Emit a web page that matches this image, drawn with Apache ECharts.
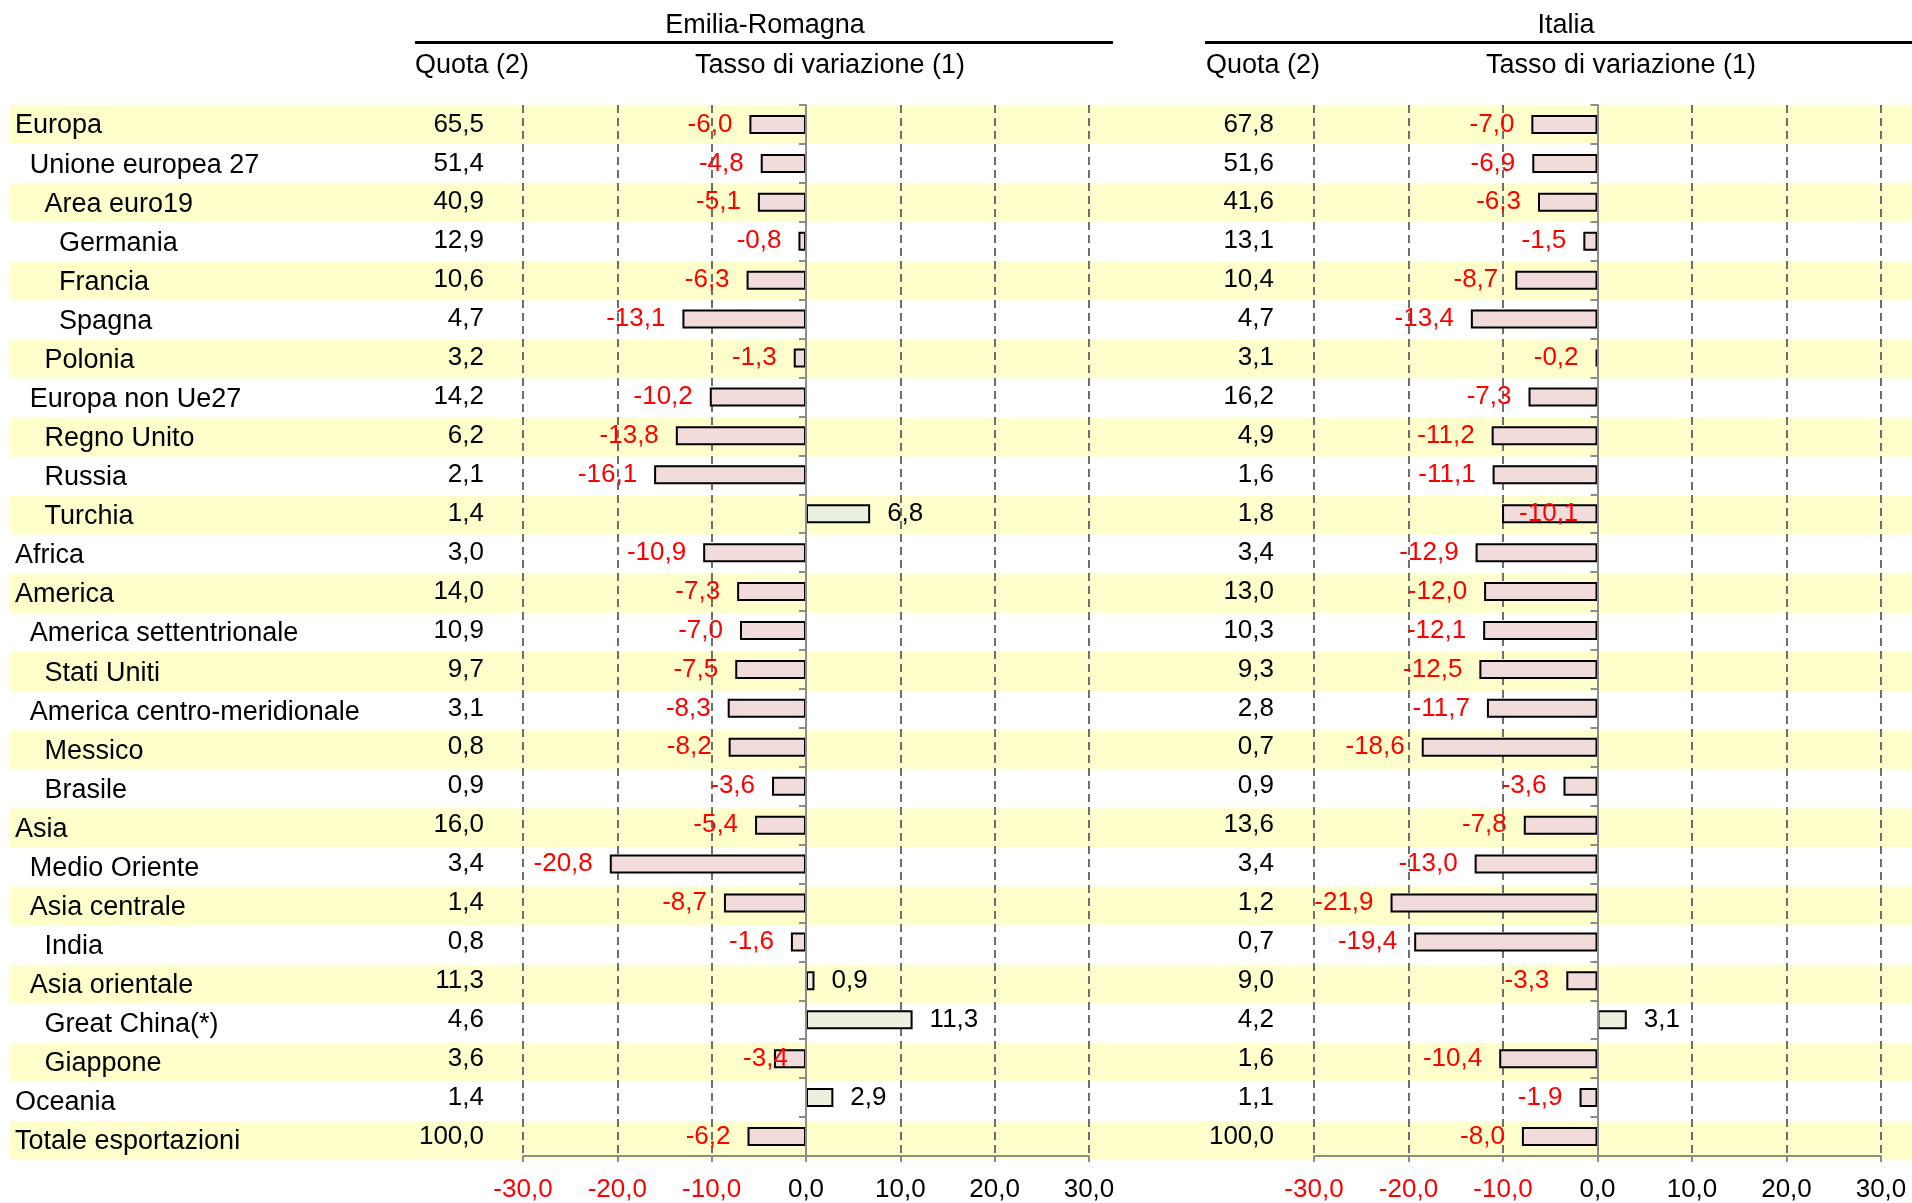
<!DOCTYPE html>
<html>
<head>
<meta charset="utf-8">
<script src="https://cdn.jsdelivr.net/npm/echarts@6/dist/echarts.min.js"></script>
<style>
html, body { margin: 0; padding: 0; background: #fff; }
#chart { width: 1912px; height: 1203px; }
</style>
</head>
<body>
<div id="chart"></div>
<script>
// aree geografiche e livello di rientro
const names = [
  'Europa', 'Unione europea 27', 'Area euro19', 'Germania', 'Francia', 'Spagna', 'Polonia',
  'Europa non Ue27', 'Regno Unito', 'Russia', 'Turchia', 'Africa', 'America',
  'America settentrionale', 'Stati Uniti', 'America centro-meridionale', 'Messico', 'Brasile',
  'Asia', 'Medio Oriente', 'Asia centrale', 'India', 'Asia orientale', 'Great China(*)',
  'Giappone', 'Oceania', 'Totale esportazioni'
]
const levels = [0, 1, 2, 3, 3, 3, 2, 1, 2, 2, 2, 0, 0, 1, 2, 1, 2, 2, 0, 1, 1, 2, 1, 2, 2, 0, 0]

// Emilia-Romagna
const quotaER = ['65,5', '51,4', '40,9', '12,9', '10,6', '4,7', '3,2', '14,2', '6,2', '2,1', '1,4', '3,0', '14,0',
  '10,9', '9,7', '3,1', '0,8', '0,9', '16,0', '3,4', '1,4', '0,8', '11,3', '4,6', '3,6', '1,4', '100,0']
const varER = [-6.0, -4.8, -5.1, -0.8, -6.3, -13.1, -1.3, -10.2, -13.8, -16.1, 6.8, -10.9, -7.3,
  -7.0, -7.5, -8.3, -8.2, -3.6, -5.4, -20.8, -8.7, -1.6, 0.9, 11.3, -3.4, 2.9, -6.2]

// Italia
const quotaIT = ['67,8', '51,6', '41,6', '13,1', '10,4', '4,7', '3,1', '16,2', '4,9', '1,6', '1,8', '3,4', '13,0',
  '10,3', '9,3', '2,8', '0,7', '0,9', '13,6', '3,4', '1,2', '0,7', '9,0', '4,2', '1,6', '1,1', '100,0']
const varIT = [-7.0, -6.9, -6.3, -1.5, -8.7, -13.4, -0.2, -7.3, -11.2, -11.1, -10.1, -12.9, -12.0,
  -12.1, -12.5, -11.7, -18.6, -3.6, -7.8, -13.0, -21.9, -19.4, -3.3, 3.1, -10.4, -1.9, -8.0]

const FONT = 'Liberation Sans, Arial, sans-serif'
const FS = 26      // numeri
const FT = 27      // testi
const fmt = v => v.toFixed(1).replace('.', ',')

const chart = echarts.init(document.getElementById('chart'))

function barData(values, odd) {
  return values.map((v, i) => {
    const neg = v < 0
    const label = {
      position: neg ? 'left' : 'right',
      color: neg ? '#ff0000' : '#000000'
    }
    if (odd[i]) Object.assign(label, odd[i])
    return {
      value: v,
      label: label,
      itemStyle: { color: neg ? '#f2dcdb' : '#ebf1de' }
    }
  })
}

function valueAxis(gridIndex) {
  return {
    type: 'value',
    gridIndex: gridIndex,
    min: -30,
    max: 30,
    interval: 10,
    position: 'bottom',
    axisLine: { show: true, lineStyle: { color: '#8c8c8c', width: 2 } },
    axisTick: { show: true, length: 6, lineStyle: { color: '#8c8c8c', width: 2 } },
    axisLabel: {
      fontFamily: FONT,
      fontSize: FS,
      margin: 21,
      formatter: v => fmt(v),
      color: v => (v < 0 ? '#ff0000' : '#000000')
    },
    splitLine: { show: true, lineStyle: { color: '#6e6e6e', width: 2, type: [8, 5] } }
  }
}

function quotaAxis(gridIndex, quota, margin) {
  return {
    type: 'category',
    gridIndex: gridIndex,
    inverse: true,
    data: names,
    position: 'left',
    axisLine: { show: false, onZero: false },
    axisTick: { show: false },
    axisLabel: {
      interval: 0,
      margin: margin,
      fontFamily: FONT,
      fontSize: FS,
      color: '#000',
      formatter: (v, i) => quota[i]
    }
  }
}

function zeroAxis(gridIndex) {
  return {
    type: 'category',
    gridIndex: gridIndex,
    inverse: true,
    data: names,
    position: 'left',
    z: 3,
    axisLine: { show: true, onZero: true, lineStyle: { color: '#8c8c8c', width: 2 } },
    axisTick: { show: true, interval: 0, length: 7, lineStyle: { color: '#8c8c8c', width: 2 } },
    axisLabel: { show: false }
  }
}

const rich = {}
;[0, 1, 2, 3].forEach(l => {
  rich['l' + l] = { fontFamily: FONT, fontSize: FT, color: '#000', padding: [3, 0, 0, l * 14.7] }
})

const labelBase = {
  show: true,
  distance: 17,
  fontFamily: FONT,
  fontSize: FS,
  formatter: p => fmt(p.value)
}

const head = (text, x, y, align) => ({
  type: 'text', x: x, y: y,
  style: { text: text, font: FT + 'px ' + FONT, fill: '#000', align: align, verticalAlign: 'middle' }
})

chart.setOption({
  animation: false,
  backgroundColor: '#fff',
  grid: [
    { left: 10, right: 0, top: 105, height: 1055 },
    { left: 523, width: 566, top: 105, height: 1055 },
    { left: 1314, width: 567, top: 105, height: 1055 }
  ],
  xAxis: [
    { type: 'value', gridIndex: 0, show: false, min: 0, max: 1 },
    valueAxis(1),
    valueAxis(2)
  ],
  yAxis: [
    {
      type: 'category',
      gridIndex: 0,
      inverse: true,
      data: names,
      z: 0,
      axisLine: { show: false },
      axisTick: { show: false },
      axisLabel: {
        interval: 0,
        inside: true,
        margin: 5,
        formatter: (v, i) => '{l' + levels[i] + '|' + v + '}',
        rich: rich
      },
      splitArea: { show: true, interval: 0, areaStyle: { color: ['#ffffcc', '#ffffff'] } }
    },
    quotaAxis(1, quotaER, 39),
    zeroAxis(1),
    quotaAxis(2, quotaIT, 40),
    zeroAxis(2)
  ],
  graphic: [
    head('Emilia-Romagna', 765, 26, 'center'),
    { type: 'rect', shape: { x: 415, y: 41, width: 698, height: 3 }, style: { fill: '#000' } },
    head('Italia', 1566, 26, 'center'),
    { type: 'rect', shape: { x: 1205, y: 41, width: 707, height: 3 }, style: { fill: '#000' } },
    head('Quota (2)', 415, 66, 'left'),
    head('Tasso di variazione (1)', 830, 66, 'center'),
    head('Quota (2)', 1206, 66, 'left'),
    head('Tasso di variazione (1)', 1621, 66, 'center')
  ],
  series: [
    {
      name: 'Emilia-Romagna',
      type: 'bar',
      xAxisIndex: 1,
      yAxisIndex: 2,
      barWidth: 19,
      itemStyle: { borderColor: '#000', borderWidth: 2 },
      label: labelBase,
      data: barData(varER, { 24: { offset: [31, 0] } })
    },
    {
      name: 'Italia',
      type: 'bar',
      xAxisIndex: 2,
      yAxisIndex: 4,
      barWidth: 19,
      itemStyle: { borderColor: '#000', borderWidth: 2 },
      label: labelBase,
      data: barData(varIT, { 10: { position: 'insideLeft' } })
    }
  ]
})
</script>
</body>
</html>
